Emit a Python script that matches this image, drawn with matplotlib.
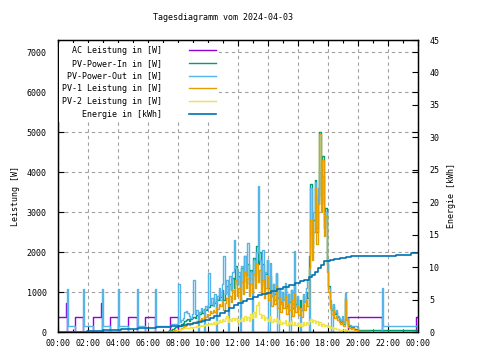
import numpy as np
import matplotlib
matplotlib.use('Agg')
import matplotlib.pyplot as plt
from matplotlib.ticker import MultipleLocator

plt.rcParams['font.family'] = ['DejaVu Sans Mono']
plt.rcParams['font.size'] = 6

title = 'Tagesdiagramm vom 2024-04-03'
labels = ['AC Leistung in [W]', 'PV-Power-In in [W]', 'PV-Power-Out in [W]',
          'PV-1 Leistung in [W]', 'PV-2 Leistung in [W]', 'Energie in [kWh]']
colors = ['#9400d3', '#009e73', '#56b4e9', '#e69f00', '#f0e442', '#0072b2']

# sample grid for daytime values (hours, 6 min)
grid_t = list(np.round(np.arange(7.0, 20.05, 0.1), 1))

# AC Leistung [W]: step breakpoints over the whole day
ac_t = [0.0, 0.53, 0.58, 1.13, 1.69, 2.36, 2.86, 2.91, 3.47, 4.02, 4.69, 5.24,
        5.80, 6.47, 7.47, 8.02, 19.36, 21.58, 23.87, 24.0]
ac_w = [365, 725, 0, 365, 0, 365, 725, 0, 365, 0, 365, 0,
        365, 0, 365, 0, 365, 0, 365, 365]

# PV-Power-Out [W]: night, day grid, evening
out_night_t = [0.0, 0.58, 0.65, 1.13, 1.69, 1.76, 2.36, 2.91, 2.98, 3.47, 4.02, 4.09,
               4.69, 5.24, 5.31, 5.80, 6.47, 6.54]
out_night_w = [0, 1075, 155, 0, 1075, 155, 0, 1075, 155, 0, 1075, 155,
               0, 1075, 155, 0, 1075, 155]
out_day_w = [155, 155, 155, 155, 155, 200, 200, 210, 190, 200,
             1200, 250, 300, 350, 500, 520, 480, 400, 350, 450,
             1300, 450, 550, 0, 500, 600, 550, 0, 650, 600,
             1470, 700, 850, 650, 950, 0, 900, 1100, 800, 1200,
             1900, 950, 1300, 0, 1400, 1050, 1500, 2300, 1600, 1200,
             1500, 0, 1650, 1250, 1900, 1400, 2220, 1200, 1500, 0,
             1800, 1400, 2000, 3640, 1800, 1200, 2060, 1100, 1500, 1800,
             0, 1720, 900, 1200, 800, 1470, 0, 1100, 700, 1000,
             800, 1220, 600, 950, 0, 1050, 700, 2020, 650, 900,
             600, 0, 550, 950, 750, 1100, 1300, 0, 3600, 2400,
             3000, 3750, 2600, 3600, 4000, 3300, 3900, 2800, 3000, 1800,
             1100, 800, 0, 700, 500, 550, 400, 350, 300, 400,
             250, 975, 350, 200, 180, 160, 150, 150, 140, 120, 0]
out_eve_t = [21.58, 21.68, 24.0]
out_eve_w = [1100, 140, 140]

# PV-Power-In [W] on the day grid
in_w = [0, 0, 10, 20, 40, 60, 80, 100, 120, 140,
        150, 160, 200, 230, 280, 300, 320, 280, 330, 350,
        380, 340, 420, 380, 450, 520, 480, 580, 560, 650,
        620, 730, 680, 780, 720, 850, 800, 950, 880, 1050,
        800, 980, 1150, 900, 1200, 1050, 1350, 1100, 1650, 1200,
        1400, 1050, 1600, 1250, 1900, 1400, 1700, 1200, 1550, 1300,
        1850, 1450, 2150, 1700, 2000, 1300, 1700, 1150, 1450, 1800,
        1100, 1400, 900, 1200, 950, 1450, 850, 1100, 750, 1000,
        800, 1150, 650, 950, 750, 1050, 600, 1200, 700, 850,
        600, 800, 550, 900, 750, 1000, 850, 1900, 3700, 2100,
        2800, 3800, 2500, 3400, 5000, 3200, 4400, 2600, 3100, 1700,
        1150, 700, 550, 650, 450, 500, 380, 320, 260, 320,
        200, 850, 350, 170, 140, 110, 120, 80, 70, 50, 40]

# PV-1 Leistung [W] on the day grid
pv1_w = [0, 0, 5, 10, 20, 25, 30, 40, 45, 50,
         60, 70, 90, 120, 160, 180, 200, 170, 210, 230,
         260, 220, 280, 250, 300, 350, 320, 400, 380, 450,
         420, 520, 470, 560, 510, 620, 580, 700, 640, 780,
         560, 720, 850, 640, 900, 760, 1050, 820, 1300, 900,
         1100, 780, 1250, 950, 1500, 1100, 1350, 900, 1200, 1000,
         1450, 1100, 1700, 1250, 1550, 950, 1300, 850, 1100, 1400,
         800, 1050, 650, 900, 700, 1150, 600, 850, 500, 750,
         600, 900, 450, 700, 550, 800, 400, 950, 500, 650,
         420, 600, 380, 700, 550, 800, 650, 1600, 2800, 1800,
         2500, 3600, 2200, 3200, 4950, 3000, 4300, 2400, 2900, 1500,
         1000, 600, 450, 550, 350, 400, 300, 250, 200, 260,
         150, 800, 300, 120, 100, 80, 90, 60, 50, 40, 30]
pv1_eve_t = [20.7, 24.0]
pv1_eve_w = [0, 0]

# PV-2 Leistung [W] on the day grid
pv2_w = [0, 0, 0, 0, 0, 0, 0, 10, 30, 45,
         60, 70, 80, 90, 100, 100, 110, 100, 120, 110,
         120, 130, 140, 120, 150, 170, 150, 180, 200, 170,
         200, 220, 190, 250, 210, 280, 230, 300, 260, 320,
         270, 350, 390, 260, 330, 280, 360, 300, 350, 250,
         300, 270, 350, 280, 400, 300, 380, 280, 450, 350,
         500, 380, 680, 760, 450, 350, 420, 300, 380, 330,
         280, 400, 250, 330, 280, 350, 220, 300, 200, 260,
         220, 300, 180, 250, 200, 280, 170, 260, 180, 230,
         150, 220, 160, 250, 180, 240, 200, 280, 320, 250,
         300, 220, 270, 180, 240, 160, 200, 140, 180, 120,
         150, 90, 120, 80, 100, 70, 80, 60, 50, 60,
         40, 70, 40, 30, 30, 20, 20, 10, 10, 0, 0]

# Energie [kWh]: step breakpoints
en_t = [0.0, 0.69, 1.9, 3.0, 4.2, 5.3, 6.5, 7.5, 8.0, 8.3, 8.6, 9.0, 9.3, 9.6, 9.8,
        10.1, 10.4, 10.8, 11.1, 11.4, 11.7, 12.0, 12.3, 12.6, 13.0, 13.3, 13.6, 13.9,
        14.2, 14.6, 15.0, 15.4, 15.8, 16.1, 16.4, 16.7, 16.9, 17.1, 17.3, 17.5, 17.7,
        17.9, 18.1, 18.4, 18.8, 19.2, 19.5, 21.9, 22.5, 23.5, 24.0]
en_kwh = [0.0, 0.05, 0.2, 0.3, 0.45, 0.6, 0.75, 0.9, 1.0, 1.1, 1.25, 1.4, 1.55, 1.75, 1.9,
          2.2, 2.5, 2.9, 3.3, 3.7, 4.1, 4.4, 4.8, 5.1, 5.4, 5.7, 5.85, 6.0,
          6.3, 6.6, 7.0, 7.3, 7.6, 7.8, 8.05, 8.4, 8.8, 9.2, 9.8, 10.4, 10.9,
          11.0, 11.1, 11.3, 11.45, 11.55, 11.65, 11.75, 11.9, 12.1, 12.15]

fig = plt.figure(figsize=(4.8, 3.6), dpi=100)
ax = fig.add_axes([58/480, 28/360, 360/480, 292/360])
ax2 = ax.twinx()

lw = 1.0
h = []
h += ax.step(ac_t, ac_w, where='post', color=colors[0], lw=lw)
h += ax.step([0.0] + grid_t + [24.0], [0] + in_w + [0], where='post', color=colors[1], lw=lw)
h += ax.step(out_night_t + grid_t + out_eve_t, out_night_w + out_day_w + out_eve_w,
             where='post', color=colors[2], lw=lw)
h += ax.step([0.0] + grid_t + pv1_eve_t, [0] + pv1_w + pv1_eve_w, where='post', color=colors[3], lw=lw)
h += ax.step([0.0] + grid_t + [24.0], [0] + pv2_w + [0], where='post', color=colors[4], lw=lw)
h += ax2.step(en_t, en_kwh, where='post', color=colors[5], lw=1.2)

ax.set_xlim(0, 24)
ax.set_ylim(0, 7300)
ax2.set_ylim(0, 45)
ax.set_xticks(np.arange(0, 25, 2))
ax.set_xticklabels(['%02d:00' % (x % 24) for x in range(0, 25, 2)])
ax.xaxis.set_minor_locator(MultipleLocator(1))
ax.set_yticks(np.arange(0, 7001, 1000))
ax2.set_yticks(np.arange(0, 46, 5))

ax.tick_params(which='both', direction='in', top=True, right=True, width=0.8)
ax.tick_params(which='major', length=4)
ax.tick_params(which='minor', length=2)
ax.tick_params(axis='y', pad=8)
ax.tick_params(axis='x', pad=5)
ax2.tick_params(direction='in', length=4, width=0.8, pad=8)

ax.grid(True, which='major', color='#a0a0a0', ls=(0, (3, 3)), lw=0.8)
for a in (ax, ax2):
    for s in a.spines.values():
        s.set_linewidth(0.9)

fig.text(223/480, 1 - 18/360, title, ha='center', va='center')
fig.text(16/480, 1 - 196/360, 'Leistung [W]', rotation=90, ha='center', va='center')
fig.text(452/480, 1 - 195/360, 'Energie [kWh]', rotation=90, ha='center', va='center')

leg = ax2.legend(h, labels, loc='upper left', bbox_to_anchor=(0.0, 0.994),
                 markerfirst=False, frameon=True, fancybox=False, framealpha=1,
                 facecolor='white', edgecolor='none', handlelength=3.2,
                 handletextpad=3.2, labelspacing=0.45, borderpad=0.4,
                 borderaxespad=0.1, fontsize=6)

fig.savefig('out.png', dpi=100)
